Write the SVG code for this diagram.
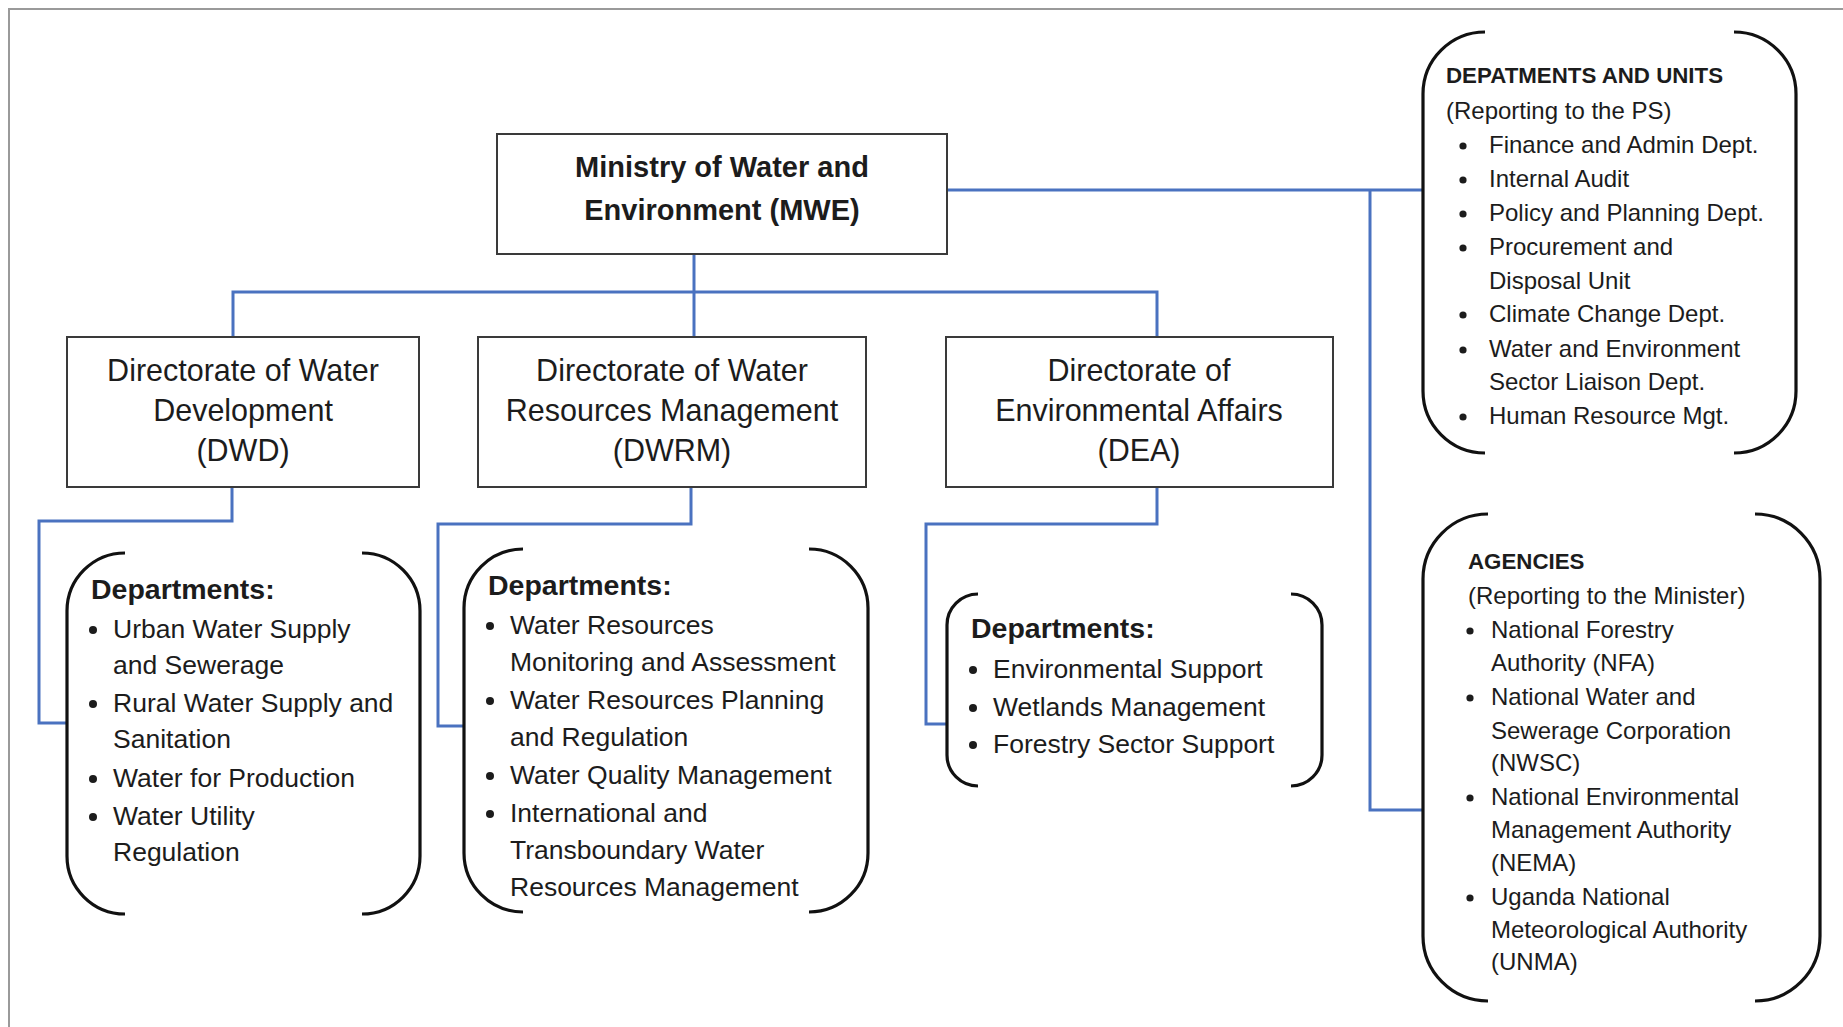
<svg xmlns="http://www.w3.org/2000/svg" width="1843" height="1027" viewBox="0 0 1843 1027">
<style>
.frame{fill:none;stroke:#9a9a9a;stroke-width:2}
.box{fill:#fff;stroke:#3a3a3a;stroke-width:2}
.conn{fill:none;stroke:#4a72c0;stroke-width:3}
.br{fill:none;stroke:#111;stroke-width:3.2;stroke-linecap:butt}
text{font-family:"Liberation Sans",Arial,sans-serif;fill:#1c1c1c}
.title{font-size:29px;font-weight:bold;text-anchor:middle}
.dir{font-size:30.5px;text-anchor:middle}
.hd{font-size:28.5px;font-weight:bold}
.li{font-size:26.5px}
.hd2{font-size:22.3px;font-weight:bold}
.li2{font-size:24px}
.dot{fill:#1c1c1c}
</style>
<rect x="0" y="0" width="1843" height="1027" fill="#fff"/>
<rect class="frame" x="9" y="9" width="1860" height="1040"/>

<g id="connectors">
<path class="conn" d="M694,254 V337"/>
<path class="conn" d="M233,337 V292 H1157 V337"/>
<path class="conn" d="M947,190 H1423"/>
<path class="conn" d="M1370,190 V810 H1423"/>
<path class="conn" d="M232,487 V521 H39 V723 H67"/>
<path class="conn" d="M691,487 V524 H438 V726 H464"/>
<path class="conn" d="M1157,487 V524 H926 V724 H947"/>
</g>

<g id="mwe">
<rect class="box" x="497" y="134" width="450" height="120"/>
<text class="title" x="722" y="177">Ministry of Water and</text>
<text class="title" x="722" y="220">Environment (MWE)</text>
</g>

<g id="dwd">
<rect class="box" x="67" y="337" width="352" height="150"/>
<text class="dir" x="243" y="381">Directorate of Water</text>
<text class="dir" x="243" y="421">Development</text>
<text class="dir" x="243" y="461">(DWD)</text>
</g>

<g id="dwrm">
<rect class="box" x="478" y="337" width="388" height="150"/>
<text class="dir" x="672" y="381">Directorate of Water</text>
<text class="dir" x="672" y="421">Resources Management</text>
<text class="dir" x="672" y="461">(DWRM)</text>
</g>

<g id="dea">
<rect class="box" x="946" y="337" width="387" height="150"/>
<text class="dir" x="1139" y="381">Directorate of</text>
<text class="dir" x="1139" y="421">Environmental Affairs</text>
<text class="dir" x="1139" y="461">(DEA)</text>
</g>

<g id="dwd-departments">
<path class="br" d="M125,553 A58,58 0 0 0 67,611 V856 A58,58 0 0 0 125,914"/>
<path class="br" d="M362,553 A58,58 0 0 1 420,611 V856 A58,58 0 0 1 362,914"/>
<text class="hd" x="91" y="599">Departments:</text>
<circle class="dot" cx="93" cy="630" r="4"/>
<circle class="dot" cx="93" cy="704" r="4"/>
<circle class="dot" cx="93" cy="779" r="4"/>
<circle class="dot" cx="93" cy="817" r="4"/>
<text class="li" x="113" y="638">Urban Water Supply</text>
<text class="li" x="113" y="674">and Sewerage</text>
<text class="li" x="113" y="712">Rural Water Supply and</text>
<text class="li" x="113" y="748">Sanitation</text>
<text class="li" x="113" y="787">Water for Production</text>
<text class="li" x="113" y="825">Water Utility</text>
<text class="li" x="113" y="861">Regulation</text>
</g>

<g id="dwrm-departments">
<path class="br" d="M523,549 A59,59 0 0 0 464,608 V853 A59,59 0 0 0 523,912"/>
<path class="br" d="M809,549 A59,59 0 0 1 868,608 V853 A59,59 0 0 1 809,912"/>
<text class="hd" x="488" y="595">Departments:</text>
<circle class="dot" cx="490" cy="626" r="4"/>
<circle class="dot" cx="490" cy="701" r="4"/>
<circle class="dot" cx="490" cy="776" r="4"/>
<circle class="dot" cx="490" cy="814" r="4"/>
<text class="li" x="510" y="634">Water Resources</text>
<text class="li" x="510" y="671">Monitoring and Assessment</text>
<text class="li" x="510" y="709">Water Resources Planning</text>
<text class="li" x="510" y="746">and Regulation</text>
<text class="li" x="510" y="784">Water Quality Management</text>
<text class="li" x="510" y="822">International and</text>
<text class="li" x="510" y="859">Transboundary Water</text>
<text class="li" x="510" y="896">Resources Management</text>
</g>

<g id="dea-departments">
<path class="br" d="M978,594 A31,31 0 0 0 947,625 V755 A31,31 0 0 0 978,786"/>
<path class="br" d="M1291,594 A31,31 0 0 1 1322,625 V755 A31,31 0 0 1 1291,786"/>
<text class="hd" x="971" y="638">Departments:</text>
<circle class="dot" cx="973" cy="670" r="4"/>
<circle class="dot" cx="973" cy="708" r="4"/>
<circle class="dot" cx="973" cy="745" r="4"/>
<text class="li" x="993" y="678">Environmental Support</text>
<text class="li" x="993" y="716">Wetlands Management</text>
<text class="li" x="993" y="753">Forestry Sector Support</text>
</g>

<g id="departments-units">
<path class="br" d="M1485,32 A62,62 0 0 0 1423,94 V391 A62,62 0 0 0 1485,453"/>
<path class="br" d="M1734,32 A62,62 0 0 1 1796,94 V391 A62,62 0 0 1 1734,453"/>
<text class="hd2" x="1446" y="83">DEPATMENTS AND UNITS</text>
<text class="li2" x="1446" y="119">(Reporting to the PS)</text>
<circle class="dot" cx="1463" cy="146" r="3.6"/>
<circle class="dot" cx="1463" cy="180" r="3.6"/>
<circle class="dot" cx="1463" cy="214" r="3.6"/>
<circle class="dot" cx="1463" cy="248" r="3.6"/>
<circle class="dot" cx="1463" cy="315" r="3.6"/>
<circle class="dot" cx="1463" cy="350" r="3.6"/>
<circle class="dot" cx="1463" cy="417" r="3.6"/>
<text class="li2" x="1489" y="153">Finance and Admin Dept.</text>
<text class="li2" x="1489" y="187">Internal Audit</text>
<text class="li2" x="1489" y="221">Policy and Planning Dept.</text>
<text class="li2" x="1489" y="255">Procurement and</text>
<text class="li2" x="1489" y="289">Disposal Unit</text>
<text class="li2" x="1489" y="322">Climate Change Dept.</text>
<text class="li2" x="1489" y="357">Water and Environment</text>
<text class="li2" x="1489" y="390">Sector Liaison Dept.</text>
<text class="li2" x="1489" y="424">Human Resource Mgt.</text>
</g>

<g id="agencies">
<path class="br" d="M1488,514 A65,65 0 0 0 1423,579 V936 A65,65 0 0 0 1488,1001"/>
<path class="br" d="M1755,514 A65,65 0 0 1 1820,579 V936 A65,65 0 0 1 1755,1001"/>
<text class="hd2" x="1468" y="569">AGENCIES</text>
<text class="li2" x="1468" y="604">(Reporting to the Minister)</text>
<circle class="dot" cx="1470" cy="631" r="3.6"/>
<circle class="dot" cx="1470" cy="698" r="3.6"/>
<circle class="dot" cx="1470" cy="798" r="3.6"/>
<circle class="dot" cx="1470" cy="898" r="3.6"/>
<text class="li2" x="1491" y="638">National Forestry</text>
<text class="li2" x="1491" y="671">Authority (NFA)</text>
<text class="li2" x="1491" y="705">National Water and</text>
<text class="li2" x="1491" y="739">Sewerage Corporation</text>
<text class="li2" x="1491" y="771">(NWSC)</text>
<text class="li2" x="1491" y="805">National Environmental</text>
<text class="li2" x="1491" y="838">Management Authority</text>
<text class="li2" x="1491" y="871">(NEMA)</text>
<text class="li2" x="1491" y="905">Uganda National</text>
<text class="li2" x="1491" y="938">Meteorological Authority</text>
<text class="li2" x="1491" y="970">(UNMA)</text>
</g>
</svg>
